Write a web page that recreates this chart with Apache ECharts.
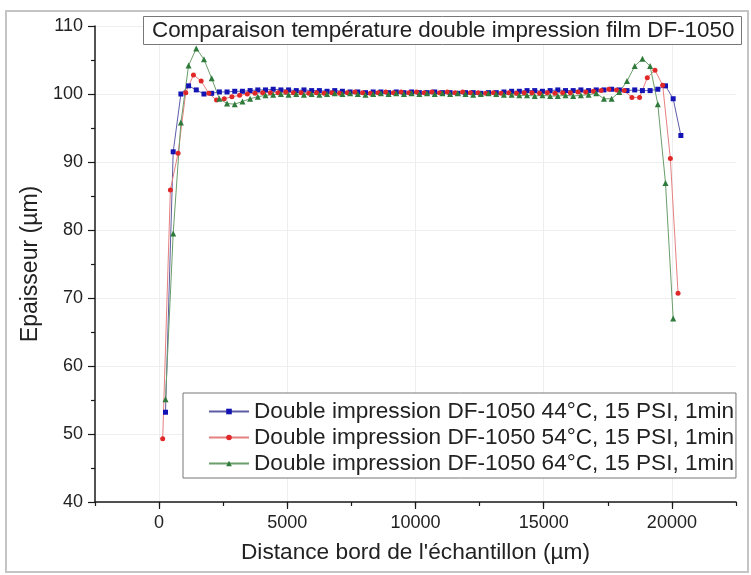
<!DOCTYPE html>
<html>
<head>
<meta charset="utf-8">
<script src="https://cdn.jsdelivr.net/npm/echarts@6/dist/echarts.min.js"></script>
<style>
html,body{margin:0;padding:0;background:#fff;}
#chart{width:751px;height:575px;}
</style>
</head>
<body>
<div id="chart"></div>
<script>
// ---- data ----
var titleText = "Comparaison température double impression film DF-1050";
var xName = "Distance bord de l'échantillon (µm)";
var yName = "Epaisseur (µm)";
var seriesNames = [
  "Double impression DF-1050 44°C, 15 PSI, 1min",
  "Double impression DF-1050 54°C, 15 PSI, 1min",
  "Double impression DF-1050 64°C, 15 PSI, 1min"
];
var xTicks = [0, 5000, 10000, 15000, 20000];

// positions (µm) of samples for the 44°C and 64°C runs
var posA = [250, 550, 850, 1150, 1450, 1750, 2050, 2350, 2650, 2950, 3250, 3550, 3850, 4150, 4450, 4750, 5050, 5350, 5650, 5950,
  6250, 6550, 6850, 7150, 7450, 7750, 8050, 8350, 8650, 8950, 9250, 9550, 9850, 10150, 10450, 10750, 11050, 11350, 11650, 11950,
  12250, 12550, 12850, 13150, 13450, 13750, 14050, 14350, 14650, 14950, 15250, 15550, 15850, 16150, 16450, 16750, 17050, 17350, 17650, 17950,
  18250, 18550, 18850, 19150, 19450, 19750, 20050, 20350];
// positions (µm) of samples for the 54°C run
var posB = [140, 440, 740, 1040, 1340, 1640, 1940, 2240, 2540, 2840, 3140, 3440, 3740, 4040, 4340, 4640, 4940, 5240, 5540, 5840,
  6140, 6440, 6740, 7040, 7340, 7640, 7940, 8240, 8540, 8840, 9140, 9440, 9740, 10040, 10340, 10640, 10940, 11240, 11540, 11840,
  12140, 12440, 12740, 13040, 13340, 13640, 13940, 14240, 14540, 14840, 15140, 15440, 15740, 16040, 16340, 16640, 16940, 17240, 17540, 17840,
  18140, 18440, 18740, 19040, 19340, 19640, 19940, 20240];

var t44 = [53.2, 91.5, 100.0, 101.2, 100.6, 100.0, 100.1, 100.3, 100.3, 100.4, 100.4, 100.5, 100.6, 100.6, 100.7, 100.6, 100.6, 100.5, 100.6, 100.5,
  100.5, 100.4, 100.5, 100.4, 100.3, 100.3, 100.2, 100.3, 100.3, 100.2, 100.3, 100.2, 100.3, 100.2, 100.2, 100.3, 100.2, 100.2, 100.1, 100.2,
  100.2, 100.1, 100.2, 100.2, 100.3, 100.4, 100.4, 100.5, 100.5, 100.4, 100.5, 100.6, 100.5, 100.5, 100.6, 100.5, 100.6, 100.6, 100.7, 100.6,
  100.5, 100.6, 100.5, 100.5, 100.7, 101.2, 99.3, 93.9];
var t54 = [49.3, 85.9, 91.3, 100.2, 102.8, 101.9, 100.1, 99.1, 99.3, 99.6, 99.8, 100.0, 100.1, 100.2, 100.2, 100.2, 100.3, 100.2, 100.2, 100.1,
  100.2, 100.1, 100.2, 100.1, 100.2, 100.3, 100.2, 100.1, 100.2, 100.3, 100.2, 100.3, 100.2, 100.3, 100.2, 100.3, 100.2, 100.3, 100.2, 100.3,
  100.2, 100.2, 100.1, 100.2, 100.1, 100.2, 100.1, 100.2, 100.2, 100.1, 100.2, 100.1, 100.2, 100.2, 100.3, 100.3, 100.4, 100.5, 100.7, 100.6,
  100.5, 99.5, 99.5, 102.4, 103.5, 101.3, 90.5, 70.7];
var t64 = [55.1, 79.5, 95.8, 104.2, 106.7, 105.1, 102.3, 99.3, 98.6, 98.5, 98.9, 99.3, 99.6, 99.8, 99.9, 100.0, 99.9, 100.0, 99.9, 100.0,
  99.9, 100.0, 100.1, 100.0, 100.1, 100.0, 99.9, 100.0, 100.1, 100.0, 100.1, 100.0, 100.1, 100.0, 100.1, 100.0, 100.1, 100.0, 100.1, 100.0,
  99.9, 100.0, 100.1, 100.0, 99.9, 99.9, 99.8, 99.8, 99.7, 99.8, 99.7, 99.7, 99.8, 99.7, 99.8, 99.9, 100.1, 99.3, 99.3, 100.3,
  101.9, 104.1, 105.2, 104.1, 98.5, 86.9, 67.0];

function pairs(xs, ys) { return ys.map(function (v, i) { return [xs[i], v]; }); }

var chart = echarts.init(document.getElementById('chart'), null, { renderer: 'canvas' });
var FONT = 'Liberation Sans, Arial, sans-serif';
var axisCol = '#1a1a1a';
var plain = function (v) { return String(v); };

var option = {
  backgroundColor: '#ffffff',
  animation: false,
  textStyle: { fontFamily: FONT },
  title: {
    text: titleText,
    left: 143, top: 16,
    padding: [3, 7, 3, 9],
    borderColor: '#777', borderWidth: 1,
    backgroundColor: '#fff',
    textStyle: { fontFamily: FONT, fontSize: 22.4, fontWeight: 'normal', color: '#222', lineHeight: 23 }
  },
  legend: {
    orient: 'vertical',
    left: 183, top: 393,
    padding: [7, 2, 3, 25],
    itemGap: 3,
    itemWidth: 40, itemHeight: 7,
    borderColor: '#777', borderWidth: 1,
    backgroundColor: '#fff',
    textStyle: { fontFamily: FONT, fontSize: 22.6, color: '#222', lineHeight: 22 },
    data: seriesNames
  },
  grid: { left: 95, right: 15, top: 26, bottom: 73, containLabel: false },
  xAxis: [
    {
      type: 'value', min: -2500, max: 22500, interval: 2500,
      position: 'bottom',
      axisLine: { show: true, onZero: false, lineStyle: { color: axisCol, width: 1.5 } },
      axisTick: { show: true, length: 4, lineStyle: { color: axisCol, width: 1.2 } },
      axisLabel: { show: false },
      splitLine: { show: false }
    },
    {
      type: 'value', min: -2500, max: 22500,
      position: 'bottom',
      name: xName, nameLocation: 'middle', nameGap: 39,
      nameTextStyle: { fontFamily: FONT, fontSize: 22.7, color: '#222' },
      axisLine: { show: false, onZero: false },
      axisTick: { show: true, length: 7, customValues: xTicks, lineStyle: { color: axisCol, width: 1.2 } },
      axisLabel: { show: true, margin: 12, customValues: xTicks, formatter: plain, fontFamily: FONT, fontSize: 18, color: '#222' },
      splitLine: { show: true, lineStyle: { color: '#eeeeee', width: 1 } }
    }
  ],
  yAxis: {
    type: 'value', min: 40, max: 110, interval: 10,
    name: yName, nameLocation: 'middle', nameGap: 53,
    nameTextStyle: { fontFamily: FONT, fontSize: 23, color: '#222' },
    axisLine: { show: true, onZero: false, lineStyle: { color: axisCol, width: 1.5 } },
    axisTick: { show: true, length: 7, lineStyle: { color: axisCol, width: 1.2 } },
    minorTick: { show: true, splitNumber: 2, length: 4, lineStyle: { color: axisCol, width: 1.2 } },
    axisLabel: { margin: 12, formatter: plain, fontFamily: FONT, fontSize: 18, color: '#222' },
    splitLine: { show: true, lineStyle: { color: '#eeeeee', width: 1 } }
  },
  graphic: [
    { type: 'rect', z: -10, shape: { x: 6, y: 11, width: 742, height: 561 }, style: { fill: 'none', stroke: '#c4c4c4', lineWidth: 2 } }
  ],
  series: [
    {
      name: seriesNames[0], type: 'line', data: pairs(posA, t44),
      symbol: 'rect', symbolSize: 5, showAllSymbol: true,
      lineStyle: { color: '#5d5da6', width: 1 },
      itemStyle: { color: '#1414b4' }
    },
    {
      name: seriesNames[1], type: 'line', data: pairs(posB, t54),
      symbol: 'circle', symbolSize: 5, showAllSymbol: true,
      lineStyle: { color: '#e68080', width: 1 },
      itemStyle: { color: '#e02828' }
    },
    {
      name: seriesNames[2], type: 'line', data: pairs(posA, t64),
      symbol: 'triangle', symbolSize: 6, showAllSymbol: true,
      lineStyle: { color: '#6a9e6a', width: 1 },
      itemStyle: { color: '#2e7a3a' }
    }
  ]
};
chart.setOption(option);
</script>
</body>
</html>
